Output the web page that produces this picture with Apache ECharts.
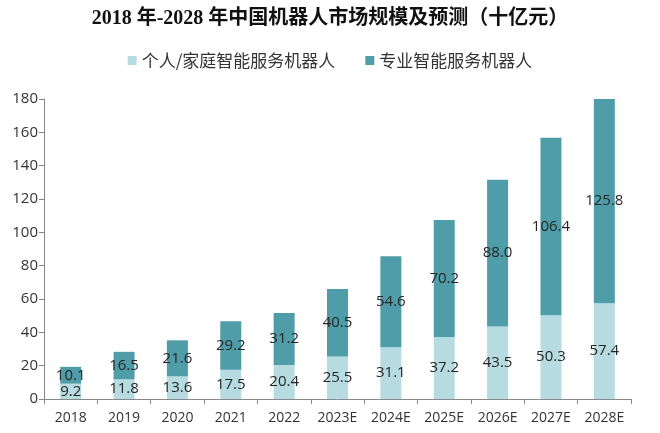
<!DOCTYPE html>
<html>
<head>
<meta charset="utf-8">
<script src="https://cdn.jsdelivr.net/npm/echarts@6/dist/echarts.min.js"></script>
<style>
html,body{margin:0;padding:0;background:#fff;}
#chart{width:660px;height:433px;}
</style>
</head>
<body>
<div id="chart"></div>
<script>
var categories = ['2018','2019','2020','2021','2022','2023E','2024E','2025E','2026E','2027E','2028E'];
var personalValues = [9.2, 11.8, 13.6, 17.5, 20.4, 25.5, 31.1, 37.2, 43.5, 50.3, 57.4];
var professionalValues = [10.1, 16.5, 21.6, 29.2, 31.2, 40.5, 54.6, 70.2, 88.0, 106.4, 125.8];
var seriesNames = ['个人/家庭智能服务机器人', '专业智能服务机器人'];
var titleText = '2018 年-2028 年中国机器人市场规模及预测（十亿元）';

var chart = echarts.init(document.getElementById('chart'));
var labelStyle = {
  show: true,
  position: 'inside',
  color: '#262626',
  fontSize: 15,
  fontFamily: 'Open Sans, Liberation Sans, sans-serif',
  formatter: function (p) { return p.value.toFixed(1); }
};
chart.setOption({
  animation: false,
  title: {
    text: titleText,
    left: 'center',
    top: 4,
    textStyle: {
      fontSize: 20,
      fontWeight: 'bold',
      color: '#111',
      fontFamily: 'Liberation Serif, Noto Sans CJK SC, serif'
    }
  },
  legend: {
    top: 47,
    left: 'center',
    itemWidth: 9,
    itemHeight: 9,
    itemGap: 30,
    icon: 'rect',
    textStyle: { fontSize: 17, color: '#333', fontFamily: 'Noto Sans CJK SC, sans-serif' },
    data: seriesNames
  },
  grid: { left: 44, right: 29, top: 99, bottom: 34 },
  xAxis: {
    type: 'category',
    data: categories,
    axisLine: { lineStyle: { color: '#888', width: 1 } },
    axisTick: { show: true, alignWithLabel: false, length: 5, lineStyle: { color: '#888' } },
    axisLabel: { color: '#333', fontSize: 14, margin: 12, fontFamily: 'Open Sans, Liberation Sans, sans-serif' }
  },
  yAxis: {
    type: 'value',
    min: 0,
    max: 180,
    interval: 20,
    axisLine: { show: true, lineStyle: { color: '#888', width: 1 } },
    axisTick: { show: true, length: 5, lineStyle: { color: '#888' } },
    splitLine: { show: false },
    axisLabel: { color: '#333', fontSize: 15, margin: 6, fontFamily: 'Open Sans, Liberation Sans, sans-serif' }
  },
  series: [
    {
      name: seriesNames[0],
      type: 'bar',
      stack: 'total',
      barWidth: 21,
      data: personalValues,
      itemStyle: { color: '#b6dbe0' },
      label: labelStyle
    },
    {
      name: seriesNames[1],
      type: 'bar',
      stack: 'total',
      barWidth: 21,
      data: professionalValues,
      itemStyle: { color: '#4f9da8' },
      label: labelStyle
    }
  ]
});
</script>
</body>
</html>
